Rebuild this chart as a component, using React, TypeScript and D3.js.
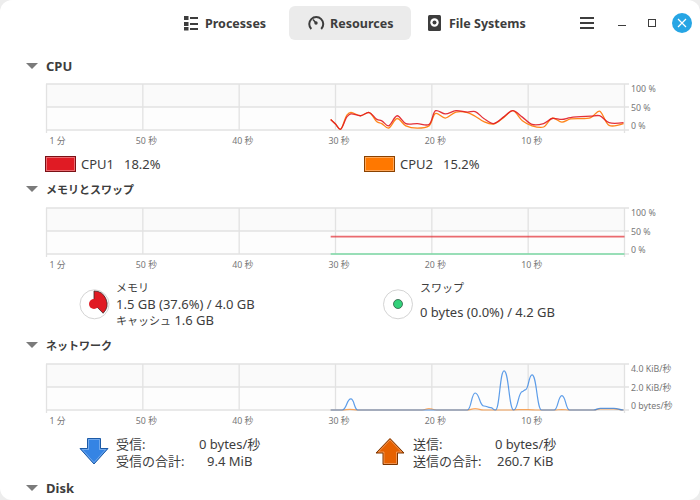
import React from "react";
import * as d3 from "d3";

const secondsAxis = [60, 50, 40, 30, 20, 10];
const secondsLabels = ["1 分", "50 秒", "40 秒", "30 秒", "20 秒", "10 秒"];

const cpuTimes = [30.5, 30, 29.5, 28.8, 28.4, 27.4, 26.5, 25.7, 25.2, 24.5, 23.6, 22.7, 21.5, 20.3, 19.6, 18.6, 17.5, 16.3, 15.5, 14.6, 13.6, 12.5, 11.6, 10.6, 9.6, 8.4, 7.5, 6.5, 5.6, 3.5, 2.6, 1.6, 0.1];
const cpu1 = [23, 13, 1.5, 29, 35, 31, 38, 23, 20, 9, 31, 14, 14, 12, 42, 35, 42, 39, 40, 25, 14, 29, 42, 28, 12, 14, 25, 23, 27, 30, 31, 16, 16];
const cpu2 = [23, 13, 1.5, 33, 38, 31, 38, 18, 14, 4, 25, 9, 4, 9, 36, 26, 39, 38, 30, 18, 13, 28, 42, 20, 9, 6.5, 26, 17, 24, 27, 41, 10, 14];

const memTimes = [30.5, 0];
const memValues = [37.6, 37.6];
const swapValues = [0, 0];

const rxTimes = [30.5, 29.3, 28.4, 27.7, 16.3, 15.5, 14.6, 13.9, 13.4, 12.5, 11.5, 10.6, 10.3, 9.6, 8.6, 7.3, 6.5, 5.7, 3.2, 2.5, 1.1, 0.1];
const rxValues = [0, 0, 0.96, 0, 0, 1.48, 0.35, 0.2, 0, 3.4, 0, 1.6, 1.75, 3.05, 0, 0, 1.25, 0, 0, 0.15, 0.15, 0];
const txTimes = [30.5, 29.3, 28.5, 27.7, 21, 20.3, 19.5, 16.4, 15.5, 14.6, 12, 11, 10, 9, 7.3, 6.5, 5.7, 3.2, 2.5, 1.1, 0.1];
const txValues = [0, 0, 0.05, 0, 0, 0.12, 0, 0, 0.12, 0, 0, 0.03, 0.03, 0, 0, 0.04, 0, 0, 0.1, 0.1, 0];

const cpuTicks = ["100 %", "50 %", "0 %"];
const memTicks = ["100 %", "50 %", "0 %"];
const netTicks = ["4.0 KiB/秒", "2.0 KiB/秒", "0 bytes/秒"];

const RED = "#e01b24";
const ORANGE = "#ff7800";
const BLUE = "#3584e4";
const GREEN = "#33d17a";
const FONT = "'Noto Sans', 'Noto Sans CJK JP', sans-serif";
const TEXT = "#3d3d3d";
const KANA_RUNS = /([\u30a0-\u30ffと]+)/;

const x = d3.scaleLinear().domain([60, 0]).range([46.5, 624.5]);

type S = { times: number[]; values: number[]; color: string; opacity?: number; width?: number; curve: any };

function Graph({ top, max, ticks, series, tickY }: { top: number; max: number; ticks: string[]; series: S[]; tickY: number[] }) {
  const y = d3.scaleLinear().domain([0, max]).range([top + 46, top]);
  const grid = "#e2e2e2";
  return (
    <g>
      <rect x={46} y={top} width={578} height={23} fill="#fafafa" />
      <rect x={46} y={top + 23} width={578} height={23} fill="#fdfdfd" />
      {[0, max / 2, max].map((v) => (
        <line key={v} x1={46} x2={629} y1={y(v)} y2={y(v)} stroke={grid} strokeWidth={1.5} />
      ))}
      {[...secondsAxis, 0].map((s) => (
        <line key={s} x1={x(s)} x2={x(s)} y1={top} y2={s === 60 || s === 0 ? top + 49 : top + 46} stroke={grid} strokeWidth={1.3} />
      ))}
      {series.map((s, i) => {
        const line = d3
          .line<number>()
          .x((_, j) => x(s.times[j]))
          .y((d) => y(d))
          .curve(s.curve);
        return <path key={i} d={line(s.values) || ""} fill="none" stroke={s.color} strokeWidth={s.width ?? 1.3} strokeOpacity={s.opacity ?? 0.9} strokeLinejoin="round" />;
      })}
      {secondsAxis.map((s, i) => (
        <text key={s} x={x(s) + (i === 0 ? 3 : -7)} y={top + 60} fontSize={8.8} fill="#777">
          {secondsLabels[i]}
        </text>
      ))}
      {ticks.map((t, i) => (
        <text key={t} x={631} y={tickY[i]} fontSize={8.8} fill="#777">
          {t}
        </text>
      ))}
    </g>
  );
}

function Section({ y, title }: { y: number; title: string }) {
  return (
    <g>
      <path d={`M26,${y - 8}L38,${y - 8}L32,${y - 2}Z`} fill="#7b7b7b" />
      <text x={46} y={y} fontSize={13} fontWeight={700} fill={TEXT}>
        <Mixed text={title} />
      </text>
    </g>
  );
}

function Mixed({ text }: { text: string }) {
  return (
    <>
      {text.split(KANA_RUNS).map((part, i) =>
        i % 2 === 1 ? (
          <tspan key={i} fontSize={11}>
            {part}
          </tspan>
        ) : (
          <tspan key={i}>{part}</tspan>
        )
      )}
    </>
  );
}

function Label({ x: px, y, text }: { x: number; y: number; text: string }) {
  return (
    <text x={px} y={y} fontSize={13} fill={TEXT}>
      <Mixed text={text} />
    </text>
  );
}

function Swatch({ x: px, y, color, border }: { x: number; y: number; color: string; border: string }) {
  return (
    <g>
      <rect x={px + 0.5} y={y + 0.5} width={30} height={15} fill={color} stroke={border} />
      <rect x={px + 1.5} y={y + 1.5} width={28} height={13} fill="none" stroke="#ffffff" strokeOpacity={0.35} />
    </g>
  );
}

export default function App() {
  const memArc = d3.arc()({ innerRadius: 0, outerRadius: 13, startAngle: 0, endAngle: (2 * Math.PI * memValues[0]) / 100 }) || "";
  return (
    <svg
      width={700}
      height={500}
      viewBox="0 0 700 500"
      style={{ position: "fixed", left: 0, top: 0, display: "block" }}
      fontFamily={FONT}
    >
      <rect x={0} y={0} width={700} height={500} fill="#ededed" />
      <rect x={0} y={0} width={700} height={500} rx={12} fill="#ffffff" />

      <rect x={289} y={6} width={122} height={34} rx={6} fill="#ebebeb" />
      <g fill="#3d3d3d">
        <rect x={184} y={16} width={4.5} height={4} />
        <rect x={184} y={22} width={4.5} height={4} />
        <rect x={184} y={27} width={4.5} height={3.5} />
        <rect x={190} y={17} width={8} height={2} />
        <rect x={190} y={23} width={8} height={2} />
        <rect x={190} y={28} width={8} height={2} />
      </g>
      <text x={205} y={28} fontSize={12.5} fontWeight={700} fill={TEXT}>Processes</text>
      <g>
        <path d="M311.3,29 A7,7 0 1 1 321.2,29" fill="none" stroke="#3d3d3d" strokeWidth={2} />
        <circle cx={316} cy={23} r={1.7} fill="#3d3d3d" />
        <path d="M316,23 L313,19.5" stroke="#3d3d3d" strokeWidth={1.5} />
      </g>
      <text x={330} y={28} fontSize={12.5} fontWeight={700} fill={TEXT}>Resources</text>
      <g>
        <rect x={428} y={15} width={13} height={16} rx={1.5} fill="#3d3d3d" />
        <circle cx={434.5} cy={22.5} r={4.2} fill="#fff" />
        <circle cx={434.5} cy={22.5} r={2} fill="#3d3d3d" />
      </g>
      <text x={449} y={28} fontSize={12.5} fontWeight={700} fill={TEXT}>File Systems</text>
      <g fill="#3d3d3d">
        <rect x={580} y={17} width={14} height={2} />
        <rect x={580} y={22} width={14} height={2} />
        <rect x={580} y={27} width={14} height={2} />
        <rect x={618} y={25} width={8} height={1} />
      </g>
      <rect x={648.5} y={19.5} width={7} height={7} fill="none" stroke="#3d3d3d" />
      <circle cx={682} cy={23} r={10} fill="#26a5e4" />
      <path d="M678,19L686,27M686,19L678,27" stroke="#fff" strokeWidth={1.2} />

      <Section y={71} title="CPU" />
      <Graph
        top={84}
        max={100}
        ticks={cpuTicks}
        tickY={[91.5, 110.5, 128.5]}
        series={[
          { times: cpuTimes, values: cpu2, color: ORANGE, curve: d3.curveCatmullRom },
          { times: cpuTimes, values: cpu1, color: RED, curve: d3.curveCatmullRom },
        ]}
      />
      <Swatch x={45} y={156} color={RED} border="#7a1015" />
      <Label x={81} y={169} text="CPU1" />
      <Label x={124} y={169} text="18.2%" />
      <Swatch x={364} y={156} color={ORANGE} border="#8a4200" />
      <Label x={400} y={169} text="CPU2" />
      <Label x={443} y={169} text="15.2%" />

      <Section y={194} title="メモリとスワップ" />
      <Graph
        top={208}
        max={100}
        ticks={memTicks}
        tickY={[215.5, 234.5, 252.5]}
        series={[
          { times: memTimes, values: memValues, color: RED, opacity: 0.65, width: 1.7, curve: d3.curveLinear },
          { times: memTimes, values: swapValues, color: GREEN, opacity: 0.6, width: 1.7, curve: d3.curveLinear },
        ]}
      />
      <circle cx={94.5} cy={304.3} r={14.5} fill="#fff" stroke="#d4d4d4" strokeWidth={1} />
      <g transform="translate(94,304)">
        <path d={memArc} fill={RED} stroke="#3d2b2b" strokeWidth={0.8} />
        <circle cx={0} cy={0} r={5} fill={RED} />
      </g>
      <Label x={116} y={292} text="メモリ" />
      <Label x={116} y={309} text="1.5 GB (37.6%) / 4.0 GB" />
      <Label x={116} y={325} text="キャッシュ 1.6 GB" />

      <circle cx={398} cy={304.3} r={14.5} fill="#fff" stroke="#d4d4d4" strokeWidth={1} />
      <circle cx={398} cy={304} r={4.5} fill={GREEN} stroke="#2f5a45" strokeWidth={0.8} />
      <Label x={420} y={292} text="スワップ" />
      <Label x={420} y={317} text="0 bytes (0.0%) / 4.2 GB" />

      <Section y={350} title="ネットワーク" />
      <Graph
        top={364}
        max={4}
        ticks={netTicks}
        tickY={[371.5, 390.5, 408.5]}
        series={[
          { times: txTimes, values: txValues, color: ORANGE, opacity: 0.6, width: 1.2, curve: d3.curveBumpX },
          { times: rxTimes, values: rxValues, color: BLUE, opacity: 0.8, width: 1.2, curve: d3.curveBumpX },
        ]}
      />
      <path d="M87.5,438.5H100.5V448.5H108L94,464L80,448.5H87.5Z" fill={BLUE} stroke="#1c5aa6" />
      <path d="M88.5,439.5H99.5V449.5H105.7L94,462.5L82.3,449.5H88.5Z" fill="none" stroke="#ffffff" strokeOpacity={0.3} />
      <path d="M390,438.5L404,453H397.5V464.5H383V453H376Z" fill="#e66100" stroke="#7a3400" />
      <path d="M390,440L401.6,452H396.5V463.5H384V452H378.4Z" fill="none" stroke="#ffffff" strokeOpacity={0.3} />
      <Label x={116} y={449} text="受信:" />
      <Label x={116} y={466} text="受信の合計:" />
      <Label x={199} y={449} text="0 bytes/秒" />
      <Label x={207} y={466} text="9.4 MiB" />
      <Label x={413} y={449} text="送信:" />
      <Label x={413} y={466} text="送信の合計:" />
      <Label x={495} y={449} text="0 bytes/秒" />
      <Label x={497} y={466} text="260.7 KiB" />

      <Section y={493} title="Disk" />
    </svg>
  );
}
